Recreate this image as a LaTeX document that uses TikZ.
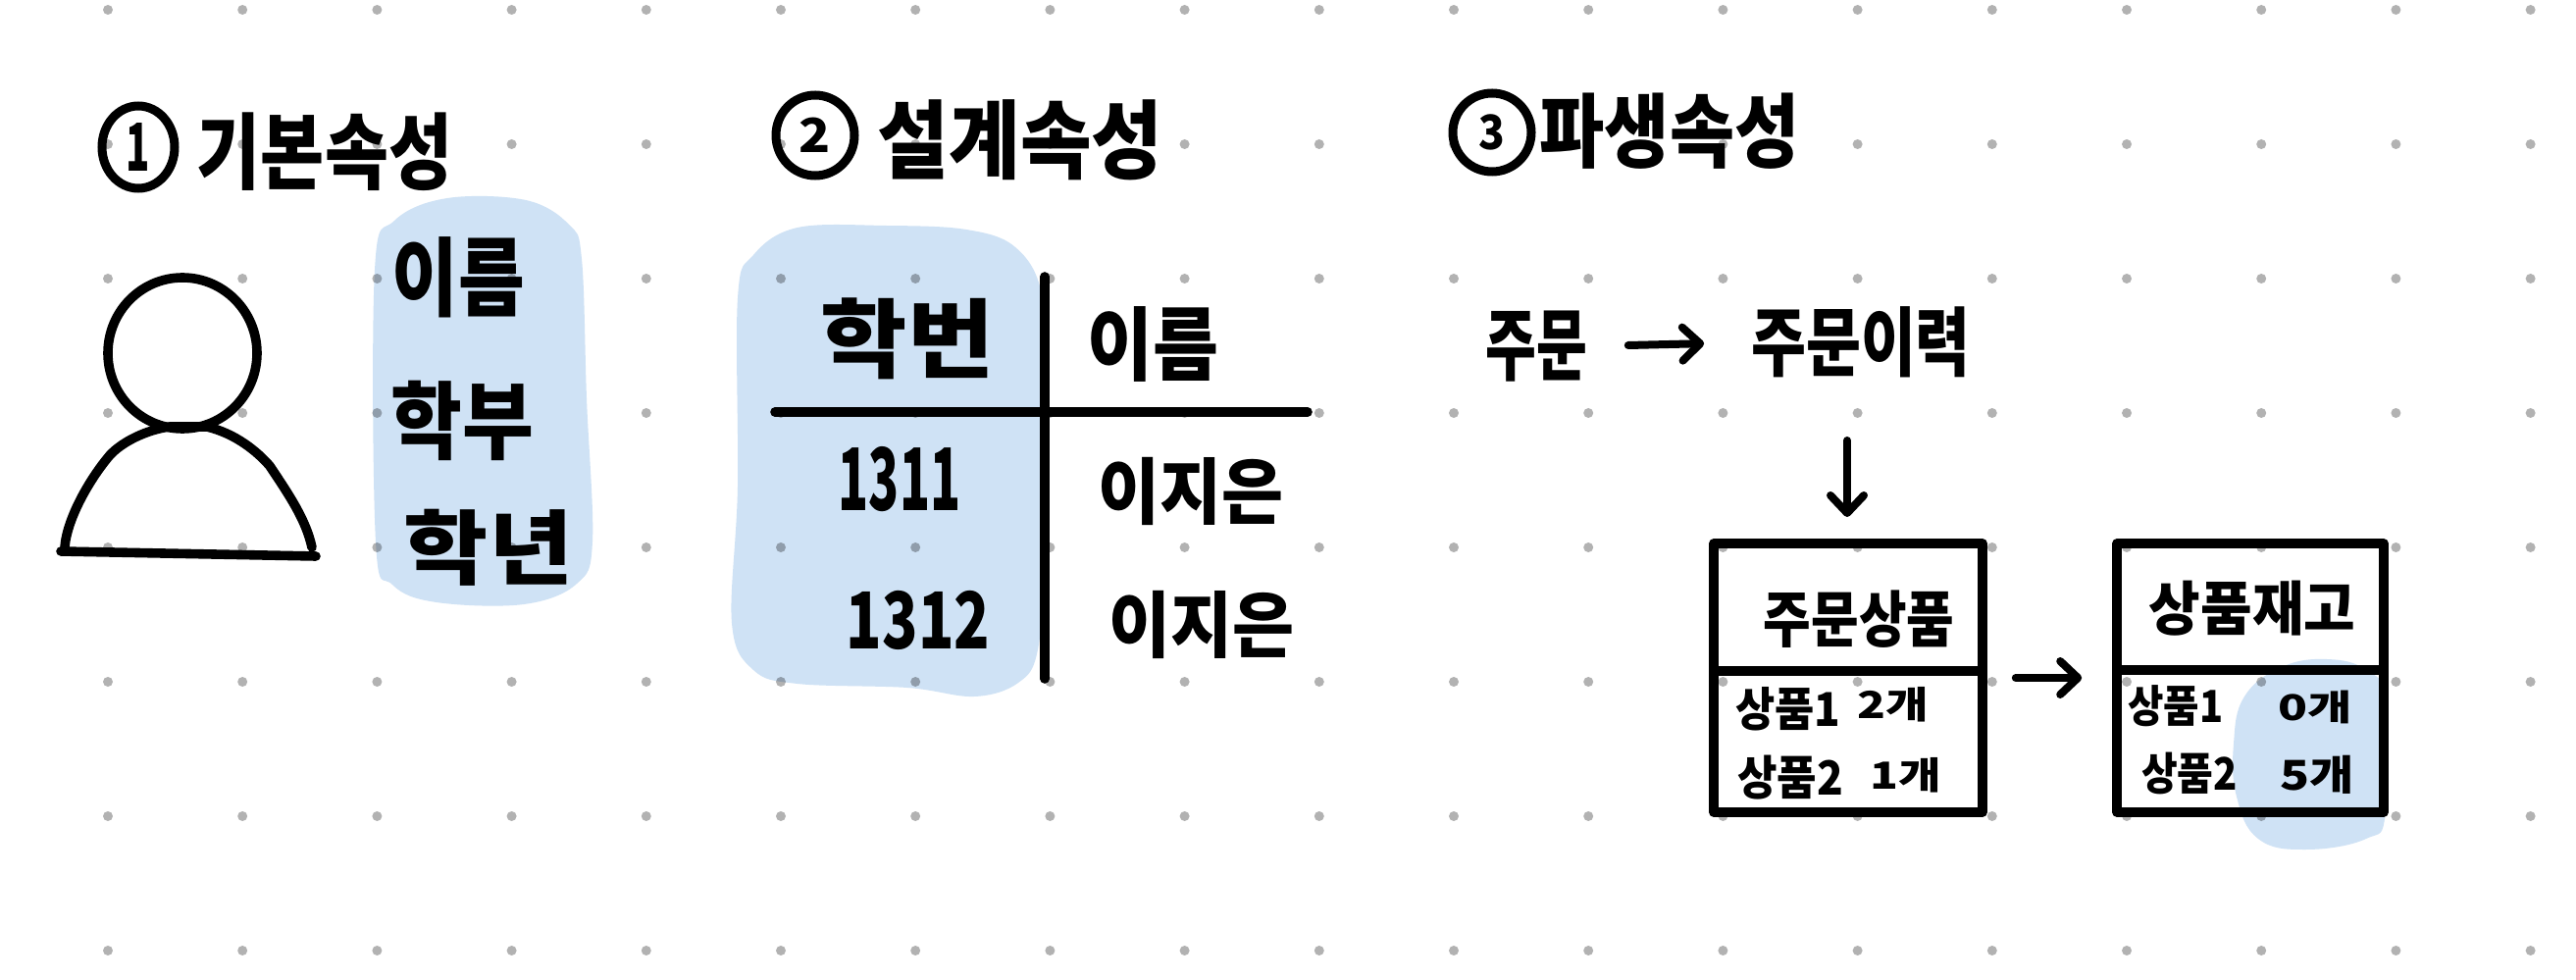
\documentclass[tikz,border=0pt]{standalone}
\usepackage{graphicx}
\usepackage{fontspec}
\setmainfont{Noto Sans CJK KR}
\usetikzlibrary{arrows.meta,shapes.geometric}
\definecolor{blob}{HTML}{CFE2F5}
\newcommand{\hw}[4]{\fontsize{#1}{#1}\selectfont\bfseries\scalebox{#2}[#3]{#4}}
\tikzset{
  ink/.style={line width=4.8pt,black,line cap=round,line join=round},
  handarrow/.style={line width=4pt,black,line cap=round,-{Straight Barb[round,length=9pt,width=17pt]}},
  handtext/.style={inner sep=0pt,outer sep=0pt,black},
  numcircle/.style={draw,ellipse,line width=4.5pt,inner sep=0pt,black},
  tablebox/.style={draw,rectangle,line width=4.8pt,inner sep=0pt,line join=round},
  marker/.style={fill=blob,draw=none},
  griddot/.style={fill=black,fill opacity=0.3,draw=none}
}
\begin{document}
\begin{tikzpicture}[x=0.5pt,y=-0.5pt]
\useasboundingbox (0,0) rectangle (2626,999);
\fill[white] (0,0) rectangle (2626,999);
% highlights
\fill[marker] plot[smooth cycle,tension=0.6] coordinates {(382,275)(402,225)(456,202)(536,204)(580,229)(593,264)(598,406)(604,552)(588,595)(534,616)(445,614)(400,596)(383,552)};
\fill[marker] plot[smooth cycle,tension=0.6] coordinates {(752,304)(768,260)(813,232)(903,230)(985,234)(1035,252)(1062,300)(1066,400)(1066,558)(1058,662)(1038,696)(993,710)(925,701)(813,697)(768,683)(746,635)(752,496)};
\fill[marker] plot[smooth cycle,tension=0.7] coordinates {(2372,672)(2412,683)(2432,715)(2432,828)(2412,855)(2350,866)(2302,855)(2280,812)(2277,758)(2288,710)(2326,680)};
% dot grid
\foreach \i in {0,...,18}{\foreach \j in {0,...,7}{
  \fill[griddot] ({110+137.2*\i},{10+137*\j}) circle[radius=5];
}}
% section 1
\node[numcircle,minimum width=37pt,minimum height=42pt] (n1) at (141,150) {\hw{25}{0.8}{1.35}{1}};
\node[handtext] (t1) at (331,155) {\hw{34}{1.04}{1.25}{기본속성}};
\draw[ink] (186,360) ellipse[x radius=76,y radius=77];
\draw[ink] (66,558) .. controls (68,530) and (90,490) .. (112,464) .. controls (125,450) and (150,438) .. (173,435) -- (211,435) .. controls (240,442) and (262,460) .. (275,475) .. controls (295,505) and (312,530) .. (318,558);
\draw[ink] (62,562) -- (322,567);
\node[handtext] (a1) at (467,283) {\hw{35}{1.05}{1.25}{이름}};
\node[handtext] (a2) at (471,429) {\hw{36}{1.1}{1.2}{학부}};
\node[handtext] (a3) at (498,558) {\hw{36}{1.3}{1.15}{학년}};
% section 2
\node[numcircle,minimum width=40pt,minimum height=41pt] (n2) at (831,138) {\hw{24}{1.1}{1}{2}};
\node[handtext] (t2) at (1040,143) {\hw{35}{1.13}{1.25}{설계속성}};
\coordinate (vtop) at (1065,282);
\coordinate (vbot) at (1065,692);
\coordinate (hleft) at (790,420);
\coordinate (hright) at (1333,420);
\draw[ink] (vtop) -- (vbot);
\draw[ink] (hleft) -- (hright);
\node[handtext] (c1) at (925,345) {\hw{40}{1.2}{1.1}{학번}};
\node[handtext] (c2) at (1175,351) {\hw{34}{1.07}{1.2}{이름}};
\node[handtext] (c3) at (917,489) {\hw{44}{0.58}{1}{1311}};
\node[handtext] (c4) at (936,632) {\hw{40}{0.75}{1}{1312}};
\node[handtext] (c5) at (1214,501) {\hw{32}{1.07}{1.15}{이지은}};
\node[handtext] (c6) at (1225,637) {\hw{32}{1.07}{1.15}{이지은}};
% section 3
\node[numcircle,minimum width=40pt,minimum height=40pt] (n3) at (1521,135) {\hw{22}{1}{1.1}{3}};
\node[handtext] (t3) at (1702,134) {\hw{33}{1.09}{1.25}{파생속성}};
\node[handtext] (order) at (1566,353) {\hw{32}{0.88}{1.25}{주문}};
\node[handtext] (hist) at (1897,349) {\hw{32}{0.95}{1.2}{주문이력}};
\draw[handarrow,shorten <=21pt,shorten >=24pt] (order.east) -- (hist.west);
\node[tablebox,minimum width=137pt,minimum height=137pt] (box1) at (1884,691) {};
\node[tablebox,minimum width=136pt,minimum height=137pt] (box2) at (2294,691) {};
\coordinate (down1) at (1883,449);
\coordinate (down2) at (1883,527);
\draw[handarrow] (down1) -- (down2);
\draw[line width=4.8pt] (box1.west |- 0,684) -- (box1.east |- 0,684);
\draw[line width=4.8pt] (box2.west |- 0,683) -- (box2.east |- 0,683);
\draw[handarrow,shorten <=14.5pt,shorten >=15.5pt] (box1.east) -- (box2.west);
\node[handtext] (b1) at (1895,631) {\hw{24}{1.1}{1.3}{주문상품}};
\node[handtext] (b2) at (2296,620) {\hw{26}{1.1}{1.15}{상품재고}};
\node[handtext] (r1) at (1823,723) {\hw{19}{1.15}{1.25}{상품1}};
\node[handtext] (r2) at (1930,718) {\hw{19}{1.25}{1}{2개}};
\node[handtext] (r3) at (1825,793) {\hw{20}{1.1}{1.2}{상품2}};
\node[handtext] (r4) at (1943,790) {\hw{19}{1.25}{1}{1개}};
\node[handtext] (s1) at (2218,720) {\hw{18}{1.1}{1.25}{상품1}};
\node[handtext] (s2) at (2360,721) {\hw{19}{1.3}{0.95}{0개}};
\node[handtext] (s3) at (2232,788) {\hw{19}{1.05}{1.2}{상품2}};
\node[handtext] (s4) at (2362,790) {\hw{19}{1.3}{1.1}{5개}};
\end{tikzpicture}
\end{document}
